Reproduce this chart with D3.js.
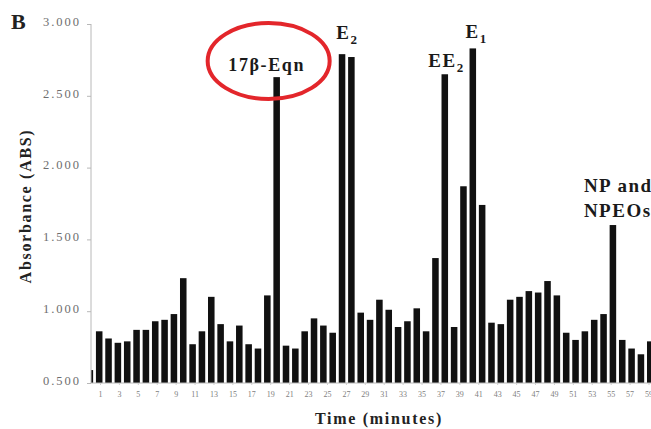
<!DOCTYPE html>
<html>
<head>
<meta charset="utf-8">
<script src="https://cdn.jsdelivr.net/npm/d3@7"></script>
<style>
  html, body { margin: 0; padding: 0; background: #fff; }
  svg { display: block; }
</style>
</head>
<body>
<svg id="chart" width="651" height="429"></svg>
<script>
// Fraction index of each collected bar (0 = partial first fraction)
const fractions = d3.range(0, 61);

// Absorbance reading of each fraction
const absorbance = [
  0.59, 0.86, 0.81, 0.78, 0.79, 0.87, 0.87, 0.93, 0.94, 0.98,
  1.23, 0.77, 0.86, 1.10, 0.91, 0.79, 0.90, 0.77, 0.74, 1.11,
  2.63, 0.76, 0.74, 0.86, 0.95, 0.90, 0.85, 2.79, 2.77, 0.99,
  0.94, 1.08, 1.01, 0.89, 0.93, 1.02, 0.86, 1.37, 2.65, 0.89,
  1.87, 2.83, 1.74, 0.92, 0.91, 1.08, 1.10, 1.14, 1.13, 1.21,
  1.11, 0.85, 0.80, 0.86, 0.94, 0.98, 1.60, 0.80, 0.74, 0.70,
  0.79
];

// Axis ticks
const yTicks = [0.5, 1.0, 1.5, 2.0, 2.5, 3.0];
const minuteTicks = d3.range(1, 60, 2);

// Peak annotations: which fraction each one names
const peakNames = ["17β-Eqn", "E", "EE", "E"];
const peakSubs = ["", "2", "2", "1"];
const peakFractions = [20, 27.5, 38, 41];
const npLines = ["NP and", "NPEOs"];
const npFraction = 56;

(function draw() {
  const svg = d3.select("#chart");
  const W = 651;
  const mLeft = 91, mRight = W, mTop = 24, mBottom = 383;
  const serif = "'Liberation Serif', 'Times New Roman', serif";

  const y = d3.scaleLinear().domain([0.5, 3.0]).range([mBottom, mTop]);

  // Bars sit on a band scale; fraction 0 starts just left of the axis
  const step = 9.34;
  const x0 = 99.2 - step * 1.5;
  const xBand = d3.scaleBand()
    .domain(fractions)
    .range([x0, x0 + step * fractions.length])
    .paddingInner(0.3)
    .paddingOuter(0.15);
  const xc = i => xBand(Math.floor(i)) + xBand.bandwidth() / 2 + (i % 1) * step;

  // Time labels along the bottom
  const xTime = d3.scaleLinear().domain([1, 59]).range([100, 648.5]);

  svg.append("defs").append("clipPath").attr("id", "plot")
    .append("rect").attr("x", mLeft).attr("y", 0)
    .attr("width", mRight - mLeft).attr("height", mBottom);

  // Bars
  svg.append("g").attr("clip-path", "url(#plot)")
    .selectAll("rect")
    .data(fractions)
    .join("rect")
    .attr("x", d => xBand(d))
    .attr("width", xBand.bandwidth())
    .attr("y", d => y(absorbance[d]))
    .attr("height", d => y(0.5) - y(absorbance[d]))
    .attr("fill", "#111");

  // Y axis
  const yAxis = svg.append("g")
    .attr("transform", `translate(${mLeft},0)`)
    .call(d3.axisLeft(y).tickValues(yTicks).tickFormat(d3.format(".3f")).tickSize(4).tickPadding(6));
  yAxis.select(".domain").attr("stroke", "#b8b8b8").attr("d", `M0,${mTop}V${mBottom}`);
  yAxis.selectAll(".tick line").attr("stroke", "#b8b8b8");
  yAxis.selectAll(".tick text")
    .attr("font-family", serif)
    .attr("font-size", 12.5)
    .attr("letter-spacing", "2px")
    .attr("fill", "#6e6e6e")
    .attr("dy", "0.1em");

  // X axis baseline and minute labels
  const xAxis = svg.append("g")
    .attr("transform", `translate(0,${mBottom})`)
    .call(d3.axisBottom(xTime).tickValues(minuteTicks).tickFormat(d3.format("d")).tickSize(2).tickPadding(6));
  xAxis.select(".domain").attr("stroke", "#b8b8b8").attr("d", `M${mLeft},0H${mRight}`);
  xAxis.selectAll(".tick line").attr("stroke", "#cfcfcf");
  xAxis.selectAll(".tick text")
    .attr("font-family", serif)
    .attr("font-size", 8)
    .attr("fill", "#808080");

  // Axis titles
  svg.append("text")
    .attr("x", 379).attr("y", 424)
    .attr("text-anchor", "middle")
    .attr("font-family", serif).attr("font-weight", "bold")
    .attr("font-size", 16).attr("letter-spacing", "1.7px")
    .attr("fill", "#222")
    .text("Time (minutes)");

  svg.append("text")
    .attr("transform", "translate(31,206) rotate(-90)")
    .attr("text-anchor", "middle")
    .attr("font-family", serif).attr("font-weight", "bold")
    .attr("font-size", 16).attr("letter-spacing", "1.7px")
    .attr("fill", "#222")
    .text("Absorbance (ABS)");

  // Panel letter
  svg.append("text")
    .attr("x", 11).attr("y", 29)
    .attr("font-family", serif).attr("font-weight", "bold")
    .attr("font-size", 22).attr("fill", "#222")
    .text("B");

  // Peak labels
  const peakDx = [-10, 0, 1, 3];
  const peakDy = [-6, -15, -7, -10];
  peakNames.forEach((name, k) => {
    const f = peakFractions[k];
    const topVal = k === 1 ? Math.max(absorbance[27], absorbance[28]) : absorbance[f];
    const t = svg.append("text")
      .attr("x", xc(f) + peakDx[k])
      .attr("y", y(topVal) + peakDy[k])
      .attr("text-anchor", "middle")
      .attr("font-family", serif).attr("font-weight", "bold")
      .attr("font-size", k === 0 ? 18 : 19)
      .attr("letter-spacing", k === 0 ? "1.6px" : "1.5px")
      .attr("fill", "#1a1a1a");
    t.append("tspan").text(name);
    if (peakSubs[k]) {
      t.append("tspan").attr("font-size", 13).attr("dy", 5).attr("letter-spacing", "0px").text(peakSubs[k]);
    }
  });

  // Red ring around 17β-Eqn
  svg.append("ellipse")
    .attr("cx", xc(20) - 8).attr("cy", 61)
    .attr("rx", 61).attr("ry", 38)
    .attr("fill", "none")
    .attr("stroke", "#e3262b")
    .attr("stroke-width", 4);

  // NP / NPEOs label
  const np = svg.append("text")
    .attr("font-family", serif).attr("font-weight", "bold")
    .attr("font-size", 19).attr("letter-spacing", "1.5px")
    .attr("fill", "#1a1a1a");
  npLines.forEach((line, k) => {
    np.append("tspan")
      .attr("x", xc(npFraction) - 29)
      .attr("y", y(absorbance[npFraction]) - 33 + k * 24.5)
      .text(line);
  });
})();
</script>
</body>
</html>
